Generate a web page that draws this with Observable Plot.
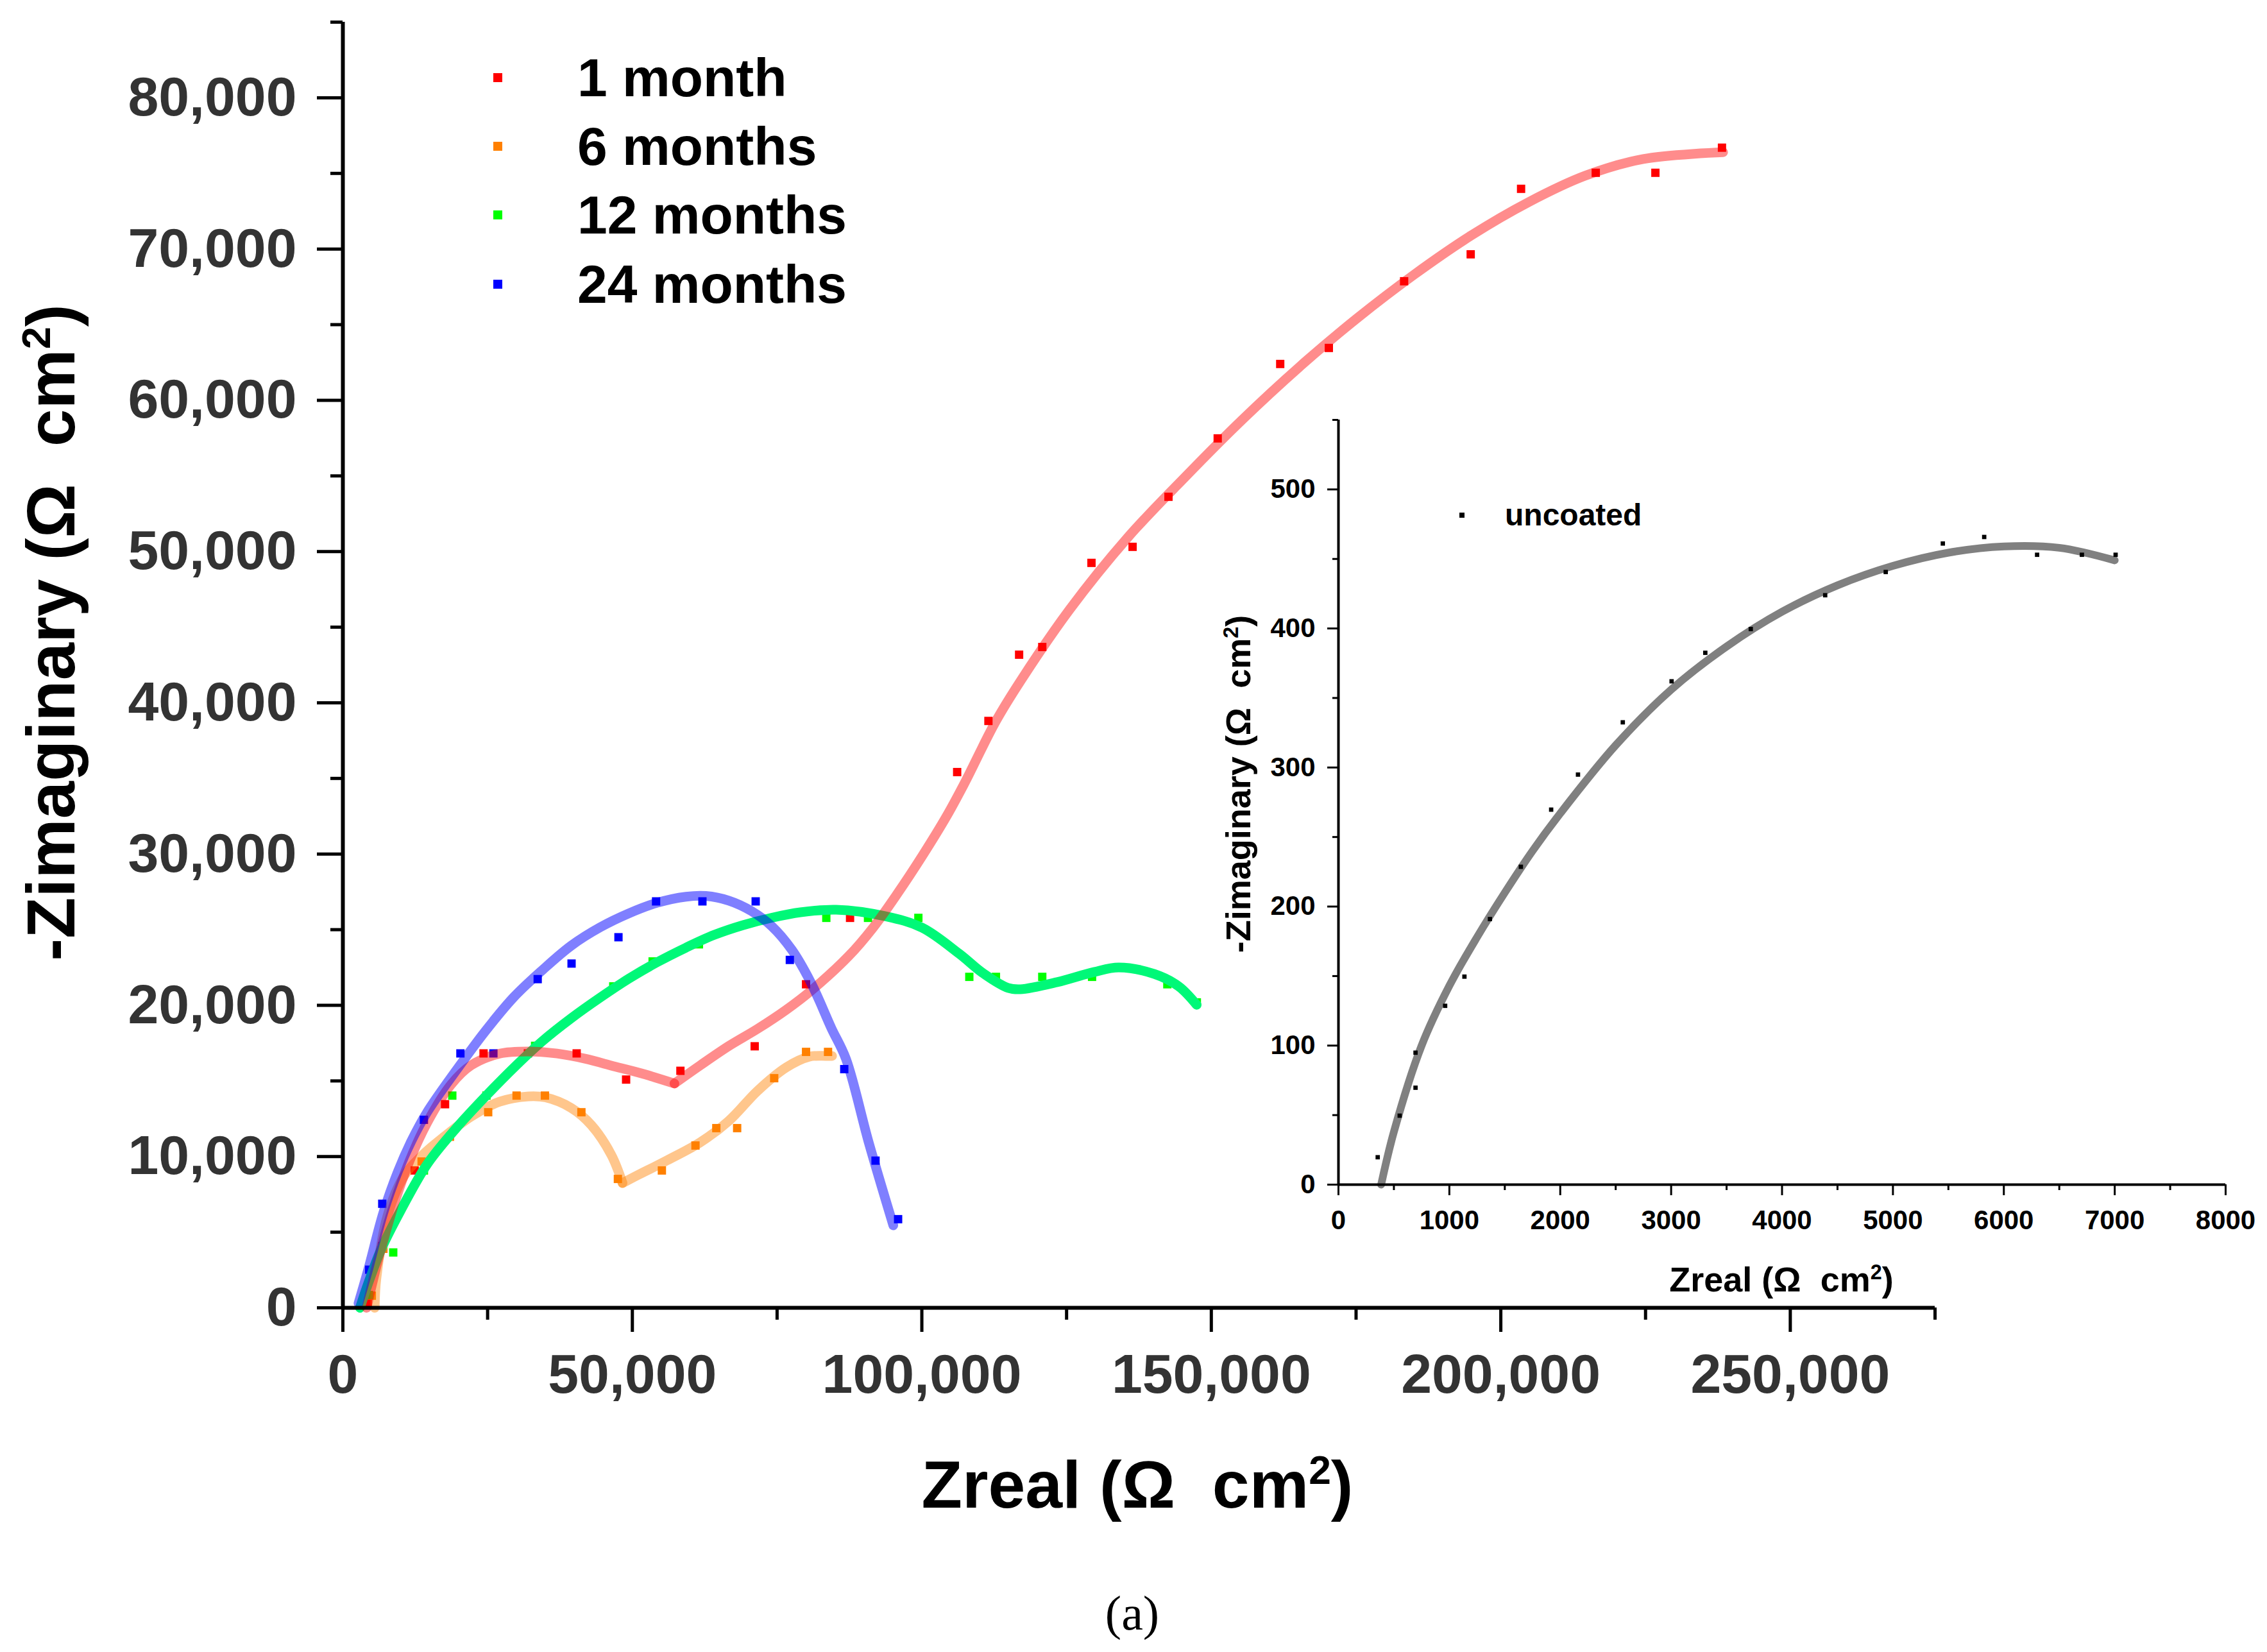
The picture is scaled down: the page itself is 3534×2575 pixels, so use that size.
<!DOCTYPE html>
<html>
<head>
<meta charset="utf-8">
<script src="https://cdn.jsdelivr.net/npm/d3@7"></script>
<script src="https://cdn.jsdelivr.net/npm/@observablehq/plot@0.6"></script>
<style>
  body { margin: 0; background: #fff; }
  #fig { position: relative; width: 3534px; height: 2575px; background: #fff;
         font-family: "Liberation Sans", Arial, sans-serif; font-weight: bold; }
  #fig svg { position: absolute; max-width: none; }
  .abs { position: absolute; white-space: pre; line-height: 1; color: #000; }
  .sup { font-size: 0.6em; position: relative; top: -0.6em; }
  .key { position: absolute; }
</style>
</head>
<body>
<div id="fig"></div>
<script>
// ---- data ----
const names = ["1 month", "6 months", "12 months", "24 months"];
const markColors = ["#ff0000", "#ff8000", "#00ff00", "#0000ff"];

// measured points
const m1X = [4300, 6800, 12400, 17650, 24300, 31960, 40380, 48920, 58300, 71130, 80000, 87600,
  106100, 111500, 116800, 120800, 129300, 136400, 142600, 151100, 161900, 170300, 183300, 194800, 203500, 216400, 226700, 238200];
const m1Y = [300, 4080, 9080, 13460, 16820, 16820, 16820, 15090, 15670, 17290, 21390, 25780,
  35420, 38800, 43180, 43690, 49250, 50310, 53620, 57480, 62400, 63460, 67870, 69650, 73980, 75040, 75040, 76700];

const m6X = [5000, 7000, 13600, 18500, 25100, 30000, 34900, 41200, 47500, 55100, 60900, 64500, 68100, 74500, 80000, 83800];
const m6Y = [800, 3900, 9670, 11310, 12930, 14030, 14030, 12930, 8520, 9080, 10730, 11880, 11880, 15180, 16920, 16920];

const m12X = [4500, 8700, 14000, 18900, 24800, 33200, 46700, 53500, 61500, 83500, 90700, 99400, 108200, 112800, 120800, 129400, 142400, 147500];
const m12Y = [850, 3660, 9080, 14030, 14030, 17320, 21250, 22900, 24030, 25780, 25780, 25780, 21880, 21880, 21880, 21880, 21390, 20190];

const m24X = [4540, 6800, 14000, 20300, 26000, 33650, 39500, 47600, 54100, 62100, 71300, 77200, 86600, 92000, 95900];
const m24Y = [2520, 6880, 12430, 16820, 16820, 21730, 22760, 24500, 26870, 26870, 26870, 23000, 15780, 9730, 5860];

// fitted curves (the 1 and 6 month fits have a cusp, so two pieces each)
const f1aX = [4100, 6070, 8890, 11500, 14500, 18690, 22150, 27100, 32040, 36990, 41930, 46880, 51830, 57270];
const f1aY = [0, 3130, 6910, 9700, 12200, 14760, 16030, 16810, 16950, 16810, 16460, 15960, 15470, 14830];
const f1bX = [57270, 61720, 66660, 71610, 76560, 80970, 87330, 91570, 95810, 100050, 104290, 107260, 112770, 117010,
  125490, 135500, 145400, 155300, 165200, 175100, 185000, 194900, 204800, 214600, 224600, 238400];
const f1bY = [14830, 16030, 17310, 18440, 19700, 21000, 23240, 25130, 27400, 29860, 32510, 34600, 38770, 41420,
  46150, 50900, 54900, 58700, 62200, 65400, 68300, 70900, 73100, 74850, 75950, 76400];

const f6aX = [5500, 5780, 7760, 10590, 13740, 17210, 22150, 27100, 32040, 35010, 39460, 42920, 46390, 48300];
const f6aY = [0, 1910, 6160, 8730, 10090, 11230, 12640, 13630, 13980, 13910, 13210, 12080, 10090, 8250];
const f6bX = [48300, 50720, 56000, 61720, 66660, 71610, 76560, 80510, 83480, 84500];
const f6bY = [8250, 8730, 9750, 10940, 12360, 14340, 15890, 16600, 16650, 16650];

const f12X = [2960, 4370, 6630, 10020, 14550, 19400, 24700, 30000, 34520, 39460, 44410, 49350, 54300, 59250, 64190,
  69140, 74080, 79030, 85210, 93690, 100050, 106410, 110650, 114890, 117010, 123370, 129730, 134000, 140150, 144370, 147470];
const f12Y = [0, 1610, 3880, 6460, 9490, 11800, 14000, 16050, 17650, 19150, 20500, 21750, 22850, 23810, 24660,
  25300, 25790, 26150, 26320, 25890, 25130, 23420, 22100, 21150, 21060, 21530, 22200, 22500, 22070, 21250, 20030];

const f24X = [2700, 4370, 7000, 9500, 11800, 14500, 19680, 24620, 29570, 34520, 39460, 44410, 49350, 54300, 59250, 62710, 66660,
  70620, 74080, 77540, 80970, 84360, 86900, 90850, 95070];
const f24Y = [300, 2520, 6300, 9000, 11000, 12900, 15750, 18300, 20560, 22350, 23950, 25150, 26070, 26780, 27180, 27230, 26920,
  26220, 25230, 23670, 21400, 18500, 16450, 10900, 5450];

// inset: uncoated
const uX = [354, 552, 695, 695, 962, 1136, 1366, 1645, 1918, 2160, 2564, 3004, 3308, 3718, 4389, 4935, 5450, 5823, 6300, 6704, 7008];
const uY = [19.7, 49.6, 69.7, 94.9, 128.6, 149.6, 191, 228.6, 269.7, 294.9, 332.5, 362, 382.5, 399.6, 423.9, 440.6, 461.1, 465.8, 453, 453, 453];
const ufX = [385, 500, 750, 1000, 1250, 1500, 1750, 2000, 2500, 3000, 3500, 4000, 4500, 5000, 5500, 6000, 6500, 7000];
const ufY = [0, 38, 100, 143, 178, 210, 240, 267, 316, 356, 387, 412, 431, 445, 454.5, 459, 458, 449];

// ticks
const xMajor = [0, 50000, 100000, 150000, 200000, 250000];
const xMinor = [25000, 75000, 125000, 175000, 225000, 275000];
const yMajor = [0, 10000, 20000, 30000, 40000, 50000, 60000, 70000, 80000];
const yMinor = [5000, 15000, 25000, 35000, 45000, 55000, 65000, 75000, 85000];
const ixMajor = [0, 1000, 2000, 3000, 4000, 5000, 6000, 7000, 8000];
const ixMinor = [500, 1500, 2500, 3500, 4500, 5500, 6500, 7500];
const iyMajor = [0, 100, 200, 300, 400, 500];
const iyMinor = [50, 150, 250, 350, 450, 550];

// ---- build ----
const zip = (xs, ys) => xs.map((x, i) => ({x, y: ys[i]}));
const points = [zip(m1X, m1Y), zip(m6X, m6Y), zip(m12X, m12Y), zip(m24X, m24Y)];
// fit pieces in drawing order: [data, colour, opacity]
const fits = [
  [zip(f6aX, f6aY), "#ff8000", 0.45],
  [zip(f6bX, f6bY), "#ff8000", 0.45],
  [zip(f12X, f12Y), "#00f878", 1],
  [zip(f1aX, f1aY), "#ff0000", 0.45],
  [zip(f1bX, f1bY), "#ff0000", 0.45],
  [zip(f24X, f24Y), "#0000ff", 0.5]
];

const fontFam = "Liberation Sans, Arial, sans-serif";
const blank = () => "";

const main = Plot.plot({
  width: 3534, height: 2400,
  marginLeft: 534, marginRight: 518, marginTop: 34, marginBottom: 362,
  style: {fontFamily: fontFam, fontWeight: "bold", fontSize: "86px", background: "transparent", left: "0px", top: "0px"},
  x: {domain: [0, 275000]},
  y: {domain: [0, 85000]},
  marks: [
    Plot.axisX({ticks: xMajor, tickSize: 38, tickPadding: 33, tickFormat: d3.format(","), stroke: "black", fill: "#333",
      strokeWidth: 5, fontSize: 86, label: null}),
    Plot.axisX({ticks: xMinor, tickSize: 19, tickFormat: blank, stroke: "black", strokeWidth: 5, label: null}),
    Plot.axisY({ticks: yMajor, tickSize: 40, tickPadding: 32, tickFormat: d3.format(","), stroke: "black", fill: "#333",
      strokeWidth: 5, fontSize: 86, label: null}),
    Plot.axisY({ticks: yMinor, tickSize: 19, tickFormat: blank, stroke: "black", strokeWidth: 5, label: null}),
    ...points.map((p, i) => Plot.dot(p, {x: "x", y: "y", symbol: "square", r: 7.3, fill: markColors[i]})),
    ...fits.map(([d, c, o]) => Plot.line(d, {x: "x", y: "y", stroke: c, strokeOpacity: o, strokeWidth: 15, curve: "catmull-rom"})),
    Plot.ruleX([0], {strokeWidth: 6}),
    Plot.ruleY([0], {strokeWidth: 6})
  ]
});

const inset = Plot.plot({
  width: 1734, height: 1430,
  marginLeft: 286, marginRight: 65, marginTop: 54, marginBottom: 184,
  style: {fontFamily: fontFam, fontWeight: "bold", fontSize: "42px", background: "transparent", left: "1800px", top: "600px"},
  x: {domain: [0, 8000]},
  y: {domain: [0, 550]},
  marks: [
    Plot.axisX({ticks: ixMajor, tickSize: 17, tickPadding: 23, tickFormat: d => String(d), stroke: "black", fill: "black",
      strokeWidth: 3, fontSize: 42, label: null}),
    Plot.axisX({ticks: ixMinor, tickSize: 9, tickFormat: blank, stroke: "black", strokeWidth: 3, label: null}),
    Plot.axisY({ticks: iyMajor, tickSize: 17, tickPadding: 19, tickFormat: d => String(d), stroke: "black", fill: "black",
      strokeWidth: 3, fontSize: 42, label: null}),
    Plot.axisY({ticks: iyMinor, tickSize: 9, tickFormat: blank, stroke: "black", strokeWidth: 3, label: null}),
    Plot.line(zip(ufX, ufY), {x: "x", y: "y", stroke: "#808080", strokeWidth: 12, curve: "catmull-rom"}),
    Plot.dot(zip(uX, uY), {x: "x", y: "y", symbol: "square", r: 3.8, fill: "black"}),
    Plot.ruleX([0], {strokeWidth: 4}),
    Plot.ruleY([0], {strokeWidth: 4})
  ]
});

const fig = d3.select("#fig");
fig.append(() => main);
fig.append(() => inset);

// axis titles
const omega = 'Ω  cm<span class="sup">2</span>)';
fig.append("div").attr("class", "abs")
  .style("left", "1773px").style("top", "2262px").style("font-size", "104px")
  .style("transform", "translate(-50%, 0)")
  .html("Zreal (" + omega);
fig.append("div").attr("class", "abs")
  .style("left", "79px").style("top", "986px").style("font-size", "105px")
  .style("transform", "translate(-50%, -50%) rotate(-90deg)")
  .html("-Zimaginary (" + omega);
fig.append("div").attr("class", "abs")
  .style("left", "2777px").style("top", "1967px").style("font-size", "54px")
  .style("transform", "translate(-50%, 0)")
  .html("Zreal (" + omega);
fig.append("div").attr("class", "abs")
  .style("left", "1930px").style("top", "1222px").style("font-size", "54px")
  .style("transform", "translate(-50%, -50%) rotate(-90deg)")
  .html("-Zimaginary (" + omega);

// legend
const rows = [121, 228, 335, 443];
names.forEach((n, i) => {
  fig.append("div").attr("class", "key")
    .style("left", "769px").style("top", (rows[i] - 7) + "px")
    .style("width", "14px").style("height", "14px").style("background", markColors[i]);
  fig.append("div").attr("class", "abs")
    .style("left", "900px").style("top", (rows[i] - 42) + "px").style("font-size", "84px")
    .text(n);
});
fig.append("div").attr("class", "key")
  .style("left", "2275px").style("top", "799px")
  .style("width", "8px").style("height", "8px").style("background", "black");
fig.append("div").attr("class", "abs")
  .style("left", "2346px").style("top", "779px").style("font-size", "48px")
  .text("uncoated");

// caption
fig.append("div").attr("class", "abs")
  .style("left", "1765px").style("top", "2476px").style("font-size", "76px")
  .style("font-family", "'Liberation Serif', 'Times New Roman', serif").style("font-weight", "normal")
  .style("transform", "translate(-50%, 0)")
  .text("(a)");
</script>
</body>
</html>
